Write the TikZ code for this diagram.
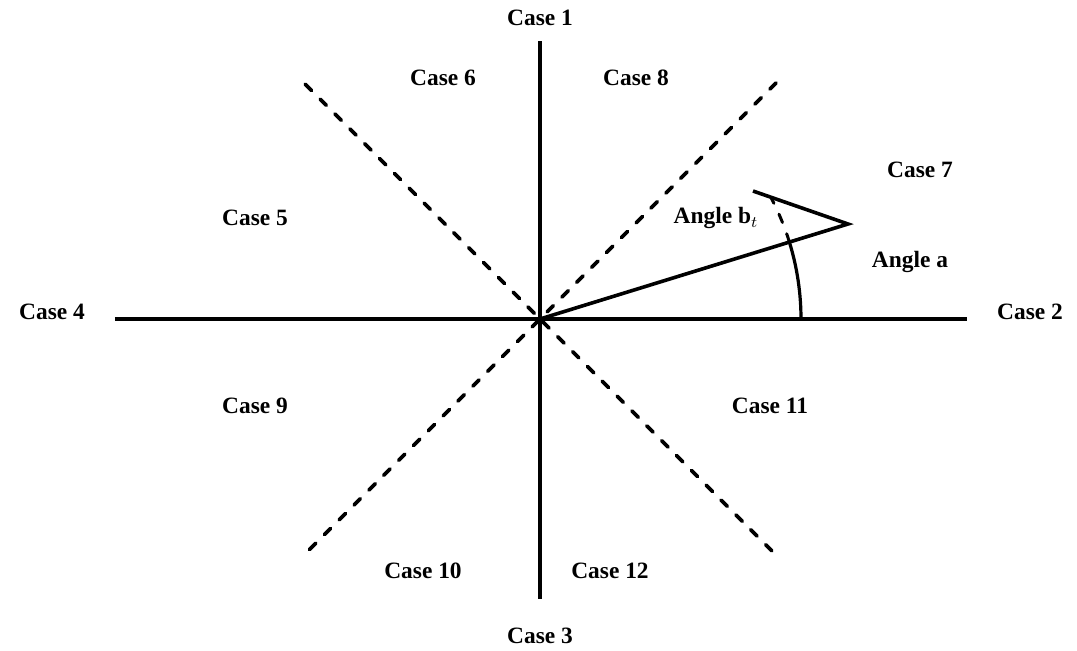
\documentclass[tikz,border=0pt]{standalone}
\usepackage{fontspec}
\setmainfont{Liberation Serif}
\usepackage{tikz}
\usetikzlibrary{calc,positioning}

\begin{document}
\begin{tikzpicture}[
    x=0.5pt, y=0.5pt,
    axis/.style={line width=1.7pt, black},
    diag/.style={line width=1.8pt, black, line cap=round, dash pattern=on 4.5pt off 6pt},
    caselabel/.style={font=\fontsize{11.7}{13}\selectfont\bfseries, inner sep=1pt},
]
    \useasboundingbox (-540,-331) rectangle (537,319);

    % axes and region borders
    \coordinate (O) at (0,0);
    \coordinate (top) at (0,278);
    \coordinate (bot) at (0,-280);
    \coordinate (left) at (-425,0);
    \coordinate (right) at (427,0);
    \coordinate (ul) at (135:332);
    \coordinate (ur) at (45:334);
    \coordinate (ll) at (225:332);
    \coordinate (lr) at (-45:334);

    \draw[axis] (top) -- (bot);
    \draw[axis] (left) -- (right);
    \draw[diag] (ul) -- (lr);
    \draw[diag] (ur) -- (ll);

    % vector and its wing
    \coordinate (tip) at (308,95);
    \coordinate (wing) at (213,128);
    \draw[line width=1.8pt, line join=miter] (O) -- (tip) -- (wing);

    % angle arcs
    \draw[line width=1.6pt] (0:261) arc[start angle=0, end angle=17.1, radius=261];
    \draw[diag, line width=1.5pt] (17.1:261) arc[start angle=17.1, end angle=27.6, radius=261];

    % labels
    \node[caselabel] (c1) at (0,301) {Case 1};
    \node[caselabel] (c6) at (-97,241) {Case 6};
    \node[caselabel] (c8) at (96,241) {Case 8};
    \node[caselabel] (c7) at (380,149) {Case 7};
    \node[caselabel] (c5) at (-285,101) {Case 5};
    \node[caselabel] (angb) at (176,101) {Angle b$_t$};
    \node[caselabel] (anga) at (370,57) {Angle a};
    \node[caselabel] (c4) at (-488,7) {Case 4};
    \node[caselabel] (c2) at (490,7) {Case 2};
    \node[caselabel] (c9) at (-285,-87) {Case 9};
    \node[caselabel] (c11) at (230,-87) {Case 11};
    \node[caselabel] (c10) at (-117,-252) {Case 10};
    \node[caselabel] (c12) at (70,-252) {Case 12};
    \node[caselabel] (c3) at (0,-317) {Case 3};
\end{tikzpicture}
\end{document}
